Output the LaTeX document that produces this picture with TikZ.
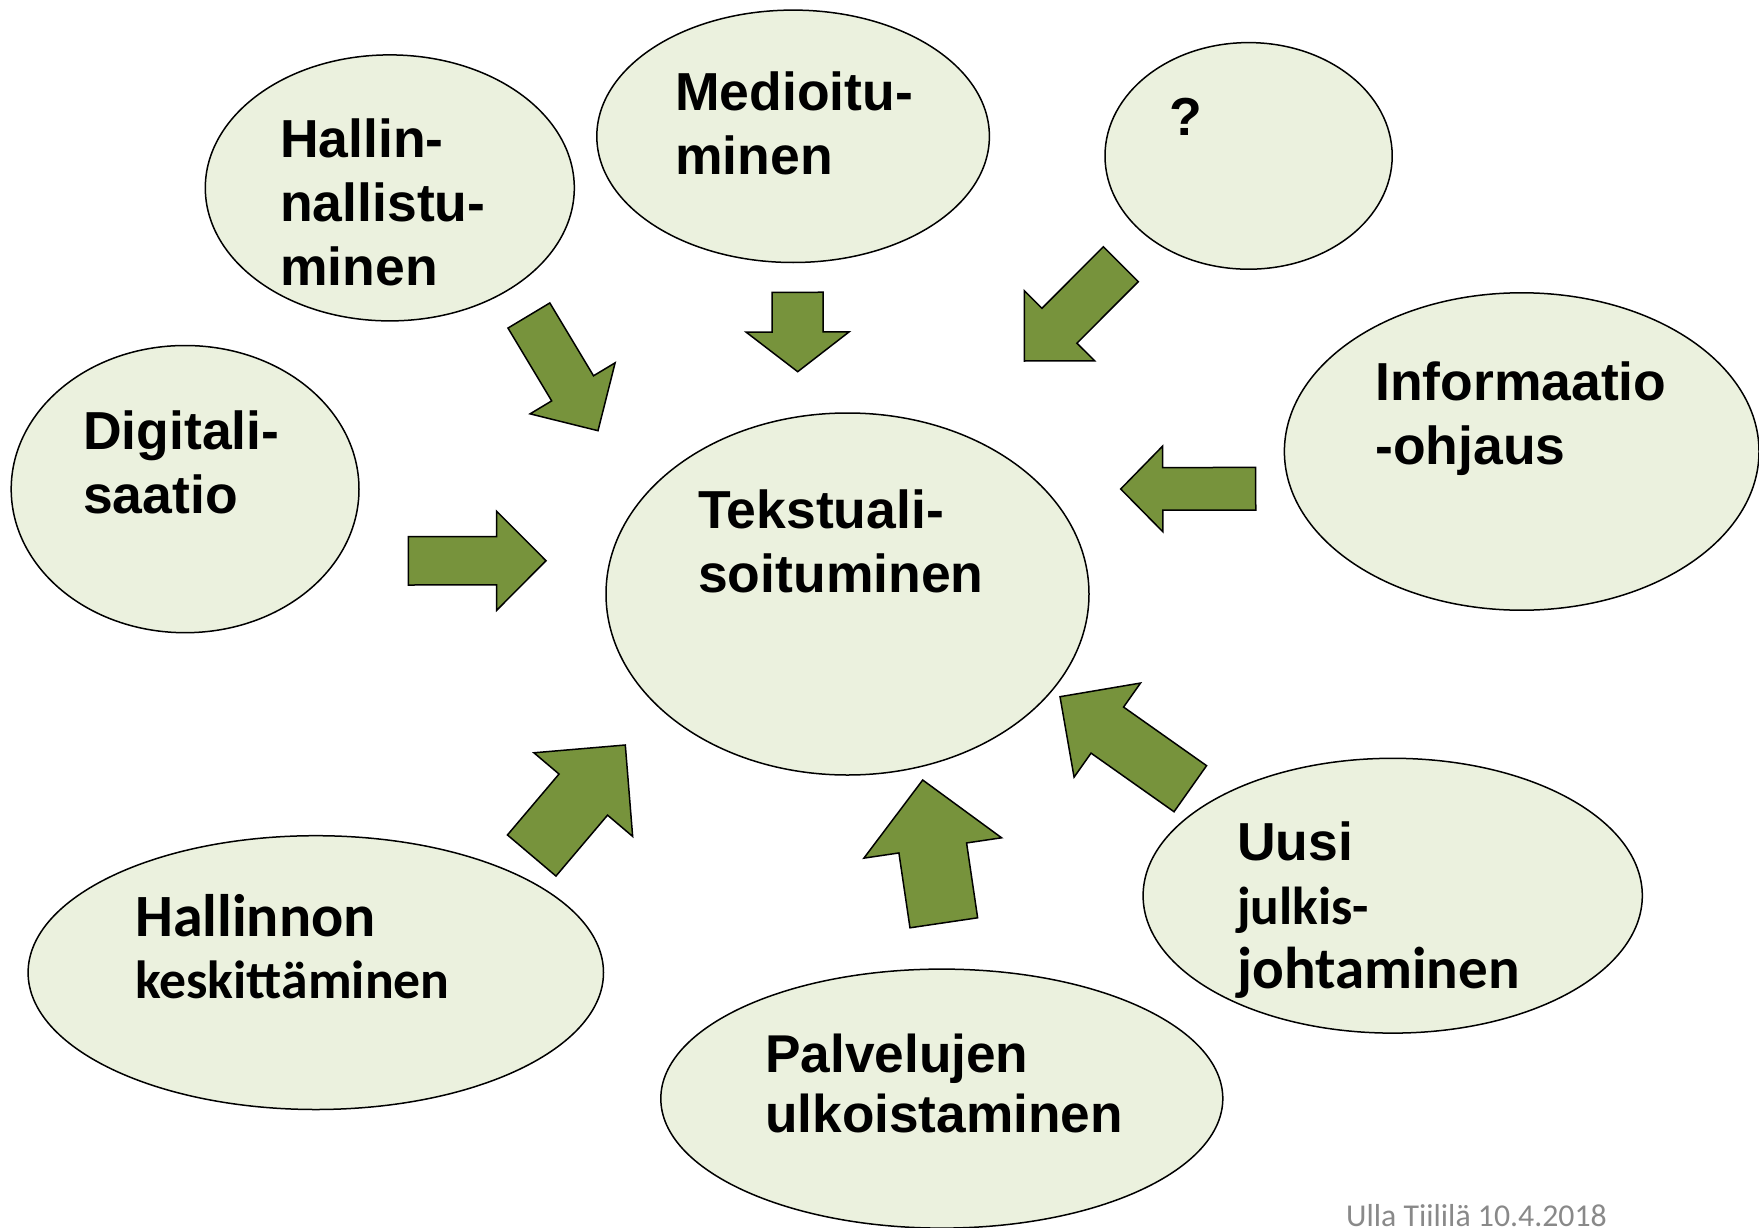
\documentclass[tikz,border=0pt]{standalone}
\usepackage{fontspec}
\setmainfont{Liberation Sans}
\newfontfamily\calibri{Carlito}
\usetikzlibrary{shapes.geometric, calc}
\definecolor{bubblefill}{RGB}{235,241,222}
\definecolor{arrowgreen}{RGB}{119,147,60}
\definecolor{footgray}{RGB}{137,137,137}

% block arrow: name, tail, tip, half shaft, half head, head length
\newcommand{\blockarrow}[6]{%
  \coordinate (#1-tail) at #2;
  \coordinate (#1-tip) at #3;
  \coordinate (#1-neck) at ($(#1-tip)!#6pt!(#1-tail)$);
  \draw[bigarrow] ($(#1-tail)!#4pt!90:(#1-tip)$) -- ($(#1-neck)!#4pt!90:(#1-tip)$)
    -- ($(#1-neck)!#5pt!90:(#1-tip)$) -- (#1-tip)
    -- ($(#1-neck)!#5pt!-90:(#1-tip)$) -- ($(#1-neck)!#4pt!-90:(#1-tip)$)
    -- ($(#1-tail)!#4pt!-90:(#1-tip)$) -- cycle;}

\begin{document}
\begin{tikzpicture}[x=1pt, y=-1pt,
        bubble/.style={ellipse, draw, fill=bubblefill, line width=1.5pt, inner sep=0pt},
        word/.style={anchor=base west, align=left, inner sep=0pt, font=\bfseries\fontsize{53.5}{64}\selectfont},
        bigarrow/.style={draw, line width=1.5pt, fill=arrowgreen, line join=miter}
    ]
    \useasboundingbox (0,0) rectangle (1759,1228);

    % bubbles
    \node[bubble, minimum width=483pt, minimum height=362pt] (tekst) at (847.5,594) {};
    \node[bubble, minimum width=369pt, minimum height=266pt] (hallin) at (389.8,187.9) {};
    \node[bubble, minimum width=392.6pt, minimum height=252.4pt] (medio) at (793.1,136.3) {};
    \node[bubble, minimum width=287.2pt, minimum height=226.6pt] (quest) at (1248.6,155.9) {};
    \node[bubble, minimum width=474.6pt, minimum height=317.4pt] (info) at (1521.7,451.5) {};
    \node[bubble, minimum width=347.8pt, minimum height=287.2pt] (digi) at (185.1,489.1) {};
    \node[bubble, minimum width=575.4pt, minimum height=273.8pt] (keskit) at (315.8,972.6) {};
    \node[bubble, minimum width=562pt, minimum height=259pt] (palvelu) at (941.8,1098.6) {};
    \node[bubble, minimum width=499.2pt, minimum height=274.8pt] (uusi) at (1392.7,895.7) {};

    % texts (anchored at the baseline of the last line)
    \node[word] (t-tekst) at (698,592) {Tekstuali-\\soituminen};
    \node[word] (t-hallin) at (280,285) {Hallin-\\nallistu-\\minen};
    \node[word] (t-medio) at (675,175) {Medioitu-\\minen};
    \node[word] (t-quest) at (1169,136) {?};
    \node[word] (t-info) at (1375,464) {Informaatio\\-ohjaus};
    \node[word] (t-digi) at (83,513) {Digitali-\\saatio};
    \node[word, font=\calibri\bfseries\fontsize{53.7}{61.6}\selectfont] (t-keskit) at (135,998)
        {{\fontsize{60}{61.6}\selectfont Hallinnon}\\keskittäminen};
    \node[word, font=\bfseries\fontsize{53.2}{60}\selectfont] (t-palvelu) at (765,1132) {Palvelujen\\ulkoistaminen};
    \node[word] (t-uusi) at (1237,988)
        {Uusi\\{\calibri\fontsize{53.4}{64}\selectfont julkis-}\\{\calibri\fontsize{59}{64}\selectfont johtaminen}};

    % arrows
    \blockarrow{a1}{(528.9,315.5)}{(598,430.7)}{24.4}{49.6}{49.4}
    \blockarrow{a2}{(797.5,292.3)}{(797.7,371.7)}{25.5}{51.5}{39.7}
    \blockarrow{a3}{(1120.8,264.2)}{(1024.3,361)}{24.7}{49.7}{49.8}
    \blockarrow{a4}{(1255.7,488.7)}{(1120.7,489)}{21.3}{42.8}{42}
    \blockarrow{a5}{(408.3,560.8)}{(546,560.7)}{24.2}{49.5}{49.3}
    \blockarrow{a6}{(531.7,855.5)}{(625.3,745)}{31.8}{64.7}{65}
    \blockarrow{a7}{(943.8,922.8)}{(922.7,780)}{34.2}{69.6}{68.7}
    \blockarrow{a8}{(1190.3,788.7)}{(1060,696.7)}{28.2}{57.6}{57.9}

    \node[anchor=base west, inner sep=0pt, text=footgray, font=\calibri\fontsize{31.8}{38}\selectfont] (foot) at (1346,1226) {Ulla Tiililä 10.4.2018};
\end{tikzpicture}
\end{document}
